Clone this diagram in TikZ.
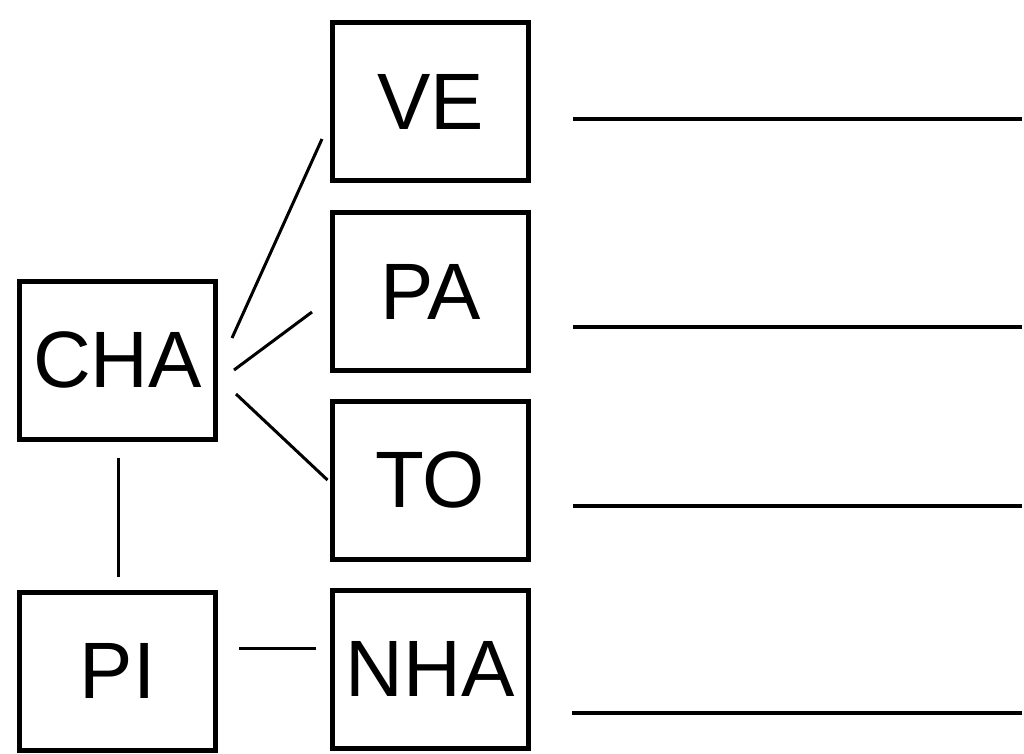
\documentclass[tikz,border=0pt]{standalone}
\usepackage{fontspec}
\setmainfont{Liberation Sans}
\begin{document}
\begin{tikzpicture}[x=1pt,y=-1pt,
  box/.style={draw=black,line width=5pt,minimum width=196pt,minimum height=158pt,inner sep=0pt,font=\fontsize{80}{80}\selectfont},
  link/.style={draw=black,line width=3pt},
  rule/.style={draw=black,line width=3.5pt}]
\useasboundingbox (0,0) rectangle (1024,753);
\fill[white] (0,0) rectangle (1024,753);
\node[box] (VE)  at (430.5,101.5) {VE};
\node[box] (PA)  at (430.5,291.5) {PA};
\node[box] (TO)  at (430,480) {TO};
\node[box] (NHA) at (430,669) {NHA};
\node[box] (CHA) at (117.5,360) {CHA};
\node[box] (PI)  at (117.5,671) {PI};
\draw[link] ([shift={(14,-22)}]CHA.east) -- ([shift={(-8,37.5)}]VE.west);
\draw[link] ([shift={(16,10)}]CHA.east) -- ([shift={(-18,20.5)}]PA.west);
\draw[link] ([shift={(18,34)}]CHA.east) -- ([shift={(-2,0)}]TO.west);
\draw[link] ([shift={(0.5,16)}]CHA.south) -- ([shift={(0.5,-13)}]PI.north);
\draw[link] ([shift={(21,-23)}]PI.east) -- ([shift={(-14,-21)}]NHA.west);
\coordinate (r1a) at (573,119);  \coordinate (r1b) at (1022,119);
\coordinate (r2a) at (573,327);  \coordinate (r2b) at (1022,327);
\coordinate (r3a) at (573,506);  \coordinate (r3b) at (1022,506);
\coordinate (r4a) at (572,713);  \coordinate (r4b) at (1022,713);
\draw[rule] (r1a) -- (r1b);
\draw[rule] (r2a) -- (r2b);
\draw[rule] (r3a) -- (r3b);
\draw[rule] (r4a) -- (r4b);
\end{tikzpicture}
\end{document}
